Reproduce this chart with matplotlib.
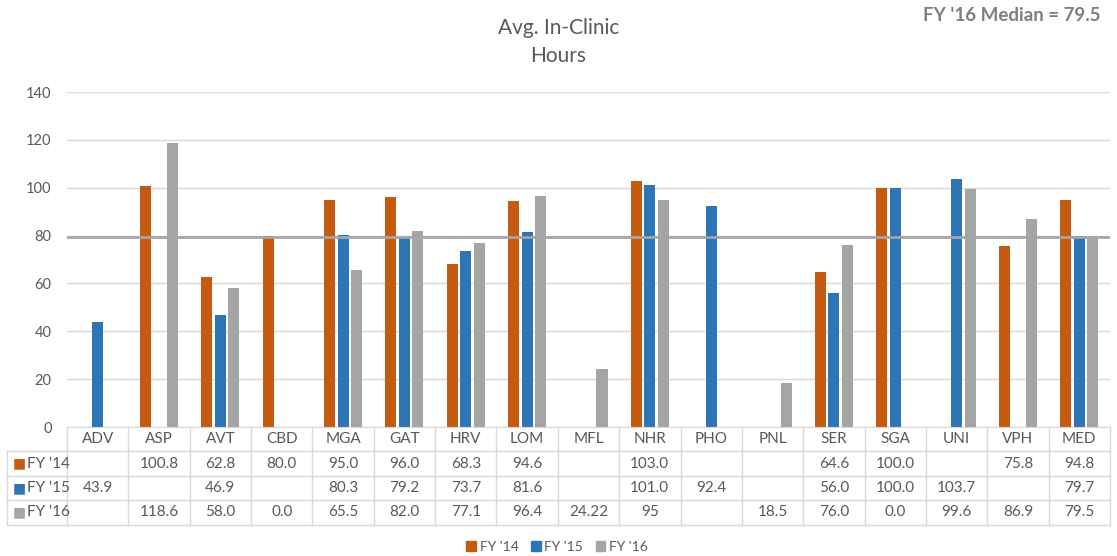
import matplotlib
matplotlib.use('Agg')
import matplotlib.pyplot as plt
import numpy as np
from matplotlib.patches import Patch

plt.rcParams['font.family'] = ['Lato', 'DejaVu Sans']

sites = ['ADV', 'ASP', 'AVT', 'CBD', 'MGA', 'GAT', 'HRV', 'LOM', 'MFL',
         'NHR', 'PHO', 'PNL', 'SER', 'SGA', 'UNI', 'VPH', 'MED']
fy14 = [None, 100.8, 62.8, 80.0, 95.0, 96.0, 68.3, 94.6, None,
        103.0, None, None, 64.6, 100.0, None, 75.8, 94.8]
fy15 = [43.9, None, 46.9, None, 80.3, 79.2, 73.7, 81.6, None,
        101.0, 92.4, None, 56.0, 100.0, 103.7, None, 79.7]
fy16 = [None, 118.6, 58.0, 0.0, 65.5, 82.0, 77.1, 96.4, 24.22,
        95, None, 18.5, 76.0, 0.0, 99.6, 86.9, 79.5]
# table text as shown (some cells keep their original formatting)
fy14_txt = ['', '100.8', '62.8', '80.0', '95.0', '96.0', '68.3', '94.6', '',
            '103.0', '', '', '64.6', '100.0', '', '75.8', '94.8']
fy15_txt = ['43.9', '', '46.9', '', '80.3', '79.2', '73.7', '81.6', '',
            '101.0', '92.4', '', '56.0', '100.0', '103.7', '', '79.7']
fy16_txt = ['', '118.6', '58.0', '0.0', '65.5', '82.0', '77.1', '96.4', '24.22',
            '95', '', '18.5', '76.0', '0.0', '99.6', '86.9', '79.5']
series_names = ["FY '14", "FY '15", "FY '16"]
median16 = 79.5
yticks = [0, 20, 40, 60, 80, 100, 120, 140]

colors = ['#C55A11', '#2E75B6', '#A5A5A5']
txt_col = '#595959'
grid_col = '#D9D9D9'

fig = plt.figure(figsize=(11.17, 5.56), dpi=100)
ax = fig.add_axes([0.06, 0.232, 0.9337, 0.6025])

x = np.arange(len(sites))
bw, off = 0.18, 0.22
for k, vals in enumerate([fy14, fy15, fy16]):
    xs = [xi + (k - 1) * off for xi, v in zip(x, vals) if v is not None]
    hs = [v for v in vals if v is not None]
    ax.bar(xs, hs, width=bw, color=colors[k], zorder=2)

ax.axhline(median16, color='#A6A6A6', lw=2, zorder=3)

ax.set_xlim(-0.5, len(sites) - 0.5)
ax.set_ylim(0, 140)
ax.set_yticks(yticks)
ax.yaxis.grid(True, color=grid_col, lw=1, zorder=0)
ax.set_xticks([])
ax.tick_params(axis='y', length=0, labelsize=10.5, labelcolor=txt_col, pad=11)
for s in ['top', 'right', 'left']:
    ax.spines[s].set_visible(False)
ax.spines['bottom'].set_color(grid_col)

# data table under the axis
rh = 10.2
left = -1.48
right = len(sites) - 0.5
n_rows = 3
bottom = -rh * (n_rows + 1)
lk = dict(color=grid_col, lw=1, clip_on=False, zorder=1)
for i in range(len(sites) + 1):
    ax.plot([i - 0.5, i - 0.5], [0, bottom], **lk)
ax.plot([left, left], [-rh, bottom], **lk)
for r in range(1, n_rows + 2):
    ax.plot([left, right], [-rh * r, -rh * r], **lk)

tk = dict(ha='center', va='center', fontsize=11, color=txt_col, clip_on=False)
for i, s in enumerate(sites):
    ax.text(i, -rh * 0.5, s, **tk)
for r, (name, row) in enumerate(zip(series_names, [fy14_txt, fy15_txt, fy16_txt])):
    yc = -rh * (r + 1.5)
    for i, t in enumerate(row):
        ax.text(i, yc, t, **tk)
    ax.text(left + 0.09, yc, '■', ha='left', va='center', fontsize=10,
            color=colors[r], family='DejaVu Sans', clip_on=False)
    ax.text(left + 0.33, yc, name, ha='left', va='center', fontsize=11,
            color=txt_col, clip_on=False)

fig.text(0.5, 0.9236, 'Avg. In-Clinic\nHours', ha='center', va='center',
         fontsize=15, color=txt_col, linespacing=1.5)
fig.text(0.985, 0.973, "FY '16 Median = 79.5", ha='right', va='center',
         fontsize=13.5, color='#7F7F7F', fontweight='bold')

handles = [Patch(color=c, label=n) for c, n in zip(colors, series_names)]
fig.legend(handles=handles, loc='center', bbox_to_anchor=(0.4987, 0.017),
           ncol=3, frameon=False, fontsize=10, handlelength=0.7,
           handleheight=0.7, handletextpad=0.25, columnspacing=0.9,
           labelcolor=txt_col)

fig.savefig('out.png', dpi=100)
